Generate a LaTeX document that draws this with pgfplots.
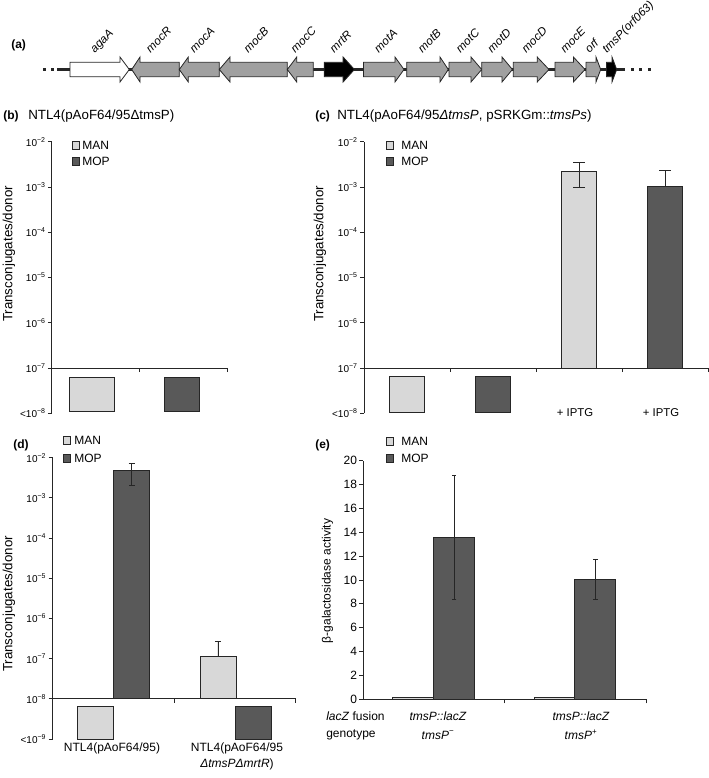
\documentclass[border=0pt]{standalone}
\usepackage{pgfplots}
\pgfplotsset{compat=1.18}
\usepackage{fontspec}
\setmainfont{Liberation Sans}
\definecolor{manc}{HTML}{D8D8D8}
\definecolor{mopc}{HTML}{595959}
\definecolor{genec}{HTML}{A0A0A0}
\definecolor{linec}{HTML}{262626}
\newcommand{\fs}[1]{\fontsize{#1}{#1}\selectfont}
\newcommand{\e}[1]{10\textsuperscript{−#1}}
\tikzset{boxst/.style={draw=linec, line width=0.6pt}}
\pgfplotsset{
  panel/.style={
    scale only axis, clip=false,
    axis y line*=left, axis x line*=middle,
    axis line style={line width=0.75pt, linec},
    every tick/.style={line width=0.6pt, linec},
    tick align=outside, major tick length=3pt,
    xmin=0, xticklabels={},
    yticklabel style={font=\fs{7.5}, inner sep=1.5pt},
  },
  barst/.style={ybar, bar shift=0pt, draw=linec, line width=0.6pt},
}
\newcommand{\gR}[4]{\draw[linec, line width=0.6pt, fill=#4] (#1,-62.3) -- (#3,-62.3) -- (#3,-57) -- (#2,-69.5) -- (#3,-82) -- (#3,-76.7) -- (#1,-76.7) -- cycle;}
\newcommand{\gL}[4]{\draw[linec, line width=0.6pt, fill=#4] (#2,-62.3) -- (#3,-62.3) -- (#3,-57) -- (#1,-69.5) -- (#3,-82) -- (#3,-76.7) -- (#2,-76.7) -- cycle;}
\newcommand{\gl}[2]{\node[rotate=45, anchor=base west, font=\itshape\fs{8.7}, inner sep=0pt] at (#1-5,-53.5) {#2};}
\begin{document}
\begin{tikzpicture}[x=0.75pt, y=0.75pt]
\path[use as bounding box] (0,0) rectangle (709,-778);
% ---------------- (a) gene map
\node[anchor=west, font=\bfseries\fs{9}, inner sep=0pt] at (11,-45) {(a)};
\fill[linec] (43,-68) rectangle (46,-71);
\fill[linec] (50.5,-68) rectangle (53.5,-71);
\draw[linec, line width=2pt] (57,-69.5) -- (625,-69.5);
\fill[linec] (630.5,-68) rectangle (633.5,-71);
\fill[linec] (639,-68) rectangle (642,-71);
\fill[linec] (647.5,-68) rectangle (650.5,-71);
\gR{70}{129.3}{120}{white}
\gL{131.7}{179.3}{140}{genec}
\gL{179.3}{219.3}{188.3}{genec}
\gL{219.3}{287.3}{230}{genec}
\gL{287.3}{313.3}{296.7}{genec}
\gR{324.2}{354.4}{343.1}{black}
\gR{363.4}{404}{395}{genec}
\gR{406.7}{448.3}{440}{genec}
\gR{449}{481.7}{471}{genec}
\gR{481.7}{512.4}{502}{genec}
\gR{513.3}{549}{537.2}{genec}
\gR{555}{585}{573.4}{genec}
\gR{586}{600.7}{596}{genec}
\gR{606.5}{616.7}{612}{black}
\gl{99.6}{agaA}
\gl{155.5}{mocR}
\gl{199.3}{mocA}
\gl{253.3}{mocB}
\gl{300.3}{mocC}
\gl{339.3}{mrtR}
\gl{383.7}{motA}
\gl{427.5}{motB}
\gl{465.4}{motC}
\gl{497}{motD}
\gl{531.2}{mocD}
\gl{570}{mocE}
\gl{594.5}{orf}
\gl{611.6}{tmsP(orf063)}
% ---------------- (b)
\coordinate (B) at (52,-413.3);
\begin{axis}[panel, at={(B)}, anchor=south west, width=131.5pt, height=203.7pt,
  xmax=2, ymin=-1, ymax=5, xtick={1,2},
  ytick={-1,0,1,2,3,4,5}, yticklabels={<\e{8},\e{7},\e{6},\e{5},\e{4},\e{3},\e{2}}]
\addplot[boxst, fill=manc] coordinates {(0.199,-0.2) (0.711,-0.2) (0.711,-0.965) (0.199,-0.965)} -- cycle;
\addplot[boxst, fill=mopc] coordinates {(1.283,-0.2) (1.681,-0.2) (1.681,-0.965) (1.283,-0.965)} -- cycle;
\end{axis}
\node[anchor=west, font=\bfseries\fs{9}, inner sep=0pt] at (3,-116) {(b)};
\node[anchor=west, font=\fs{10}, inner sep=0pt] at (28,-116) {NTL4(pAoF64/95ΔtmsP)};
\node[rotate=90, font=\fs{10}] at (9,-254) {Transconjugates/donor};
\draw[boxst, fill=manc] (72,-141.8) rectangle (79,-149.4);
\draw[boxst, fill=mopc] (72,-157.7) rectangle (79,-165.3);
\node[anchor=west, font=\fs{9}, inner sep=0pt] at (82,-145.6) {MAN};
\node[anchor=west, font=\fs{9}, inner sep=0pt] at (82,-161.5) {MOP};
% ---------------- (c)
\coordinate (C) at (364,-413.3);
\begin{axis}[panel, at={(C)}, anchor=south west, width=258.2pt, height=203.7pt,
  xmax=4, ymin=-1, ymax=5, xtick={1,2,3,4},
  ytick={-1,0,1,2,3,4,5}, yticklabels={<\e{8},\e{7},\e{6},\e{5},\e{4},\e{3},\e{2}}]
\addplot[boxst, fill=manc] coordinates {(0.295,-0.18) (0.705,-0.18) (0.705,-0.97) (0.295,-0.97)} -- cycle;
\addplot[boxst, fill=mopc] coordinates {(1.295,-0.18) (1.705,-0.18) (1.705,-0.97) (1.295,-0.97)} -- cycle;
\addplot[barst, bar width=0.41, fill=manc,
  error bars/.cd, y dir=both, y explicit,
  error bar style={line width=0.6pt, linec},
  error mark options={line width=0.6pt, linec, mark size=4.5pt, rotate=90}]
  coordinates {(2.5,4.35) += (0,0.194) -= (0,0.36)};
\addplot[barst, bar width=0.41, fill=mopc,
  error bars/.cd, y dir=plus, y explicit,
  error bar style={line width=0.6pt, linec},
  error mark options={line width=0.6pt, linec, mark size=4.5pt, rotate=90}]
  coordinates {(3.5,4.02) += (0,0.34)};
\end{axis}
\node[anchor=west, font=\bfseries\fs{9}, inner sep=0pt] at (315,-116) {(c)};
\node[anchor=west, font=\fs{10}, inner sep=0pt] at (337,-116) {NTL4(pAoF64/95\textit{ΔtmsP}, pSRKGm::\textit{tmsPs})};
\node[rotate=90, font=\fs{10}] at (320,-254) {Transconjugates/donor};
\draw[boxst, fill=manc] (386,-141.8) rectangle (393,-149.4);
\draw[boxst, fill=mopc] (386,-157.7) rectangle (393,-165.3);
\node[anchor=west, font=\fs{9}, inner sep=0pt] at (401,-145.6) {MAN};
\node[anchor=west, font=\fs{9}, inner sep=0pt] at (401,-161.5) {MOP};
\node[font=\fs{8.5}] at (575,-413) {+ IPTG};
\node[font=\fs{8.5}] at (661,-413) {+ IPTG};
% ---------------- (d)
\coordinate (D) at (52.5,-739);
\begin{axis}[panel, at={(D)}, anchor=south west, width=182.5pt, height=211pt,
  xmax=2, ymin=-1, ymax=6, xtick={1,2},
  ytick={-1,0,1,2,3,4,5,6}, yticklabels={<\e{9},\e{8},\e{7},\e{6},\e{5},\e{4},\e{3},\e{2}}]
\addplot[boxst, fill=manc] coordinates {(0.207,-0.185) (0.502,-0.185) (0.502,-1) (0.207,-1)} -- cycle;
\addplot[boxst, fill=mopc] coordinates {(1.505,-0.185) (1.8,-0.185) (1.8,-1) (1.505,-1)} -- cycle;
\addplot[barst, bar width=0.295, fill=mopc,
  error bars/.cd, y dir=both, y explicit,
  error bar style={line width=0.6pt, linec},
  error mark options={line width=0.6pt, linec, mark size=2.3pt, rotate=90}]
  coordinates {(0.65,5.686) += (0,0.174) -= (0,0.366)};
\addplot[barst, bar width=0.295, fill=manc,
  error bars/.cd, y dir=plus, y explicit,
  error bar style={line width=0.6pt, linec},
  error mark options={line width=0.6pt, linec, mark size=2.3pt, rotate=90}]
  coordinates {(1.36,1.05) += (0,0.39)};
\end{axis}
\node[anchor=west, font=\bfseries\fs{9}, inner sep=0pt] at (13,-445) {(d)};
\node[rotate=90, font=\fs{10}] at (9,-604) {Transconjugates/donor};
\draw[boxst, fill=manc] (63.5,-436.5) rectangle (70.5,-444.5);
\draw[boxst, fill=mopc] (63.5,-454) rectangle (70.5,-462);
\node[anchor=west, font=\fs{9}, inner sep=0pt] at (74,-440.5) {MAN};
\node[anchor=west, font=\fs{9}, inner sep=0pt] at (74,-458) {MOP};
\node[font=\fs{9}] at (112,-748) {NTL4(pAoF64/95)};
\node[font=\fs{9}] at (237,-748) {NTL4(pAoF64/95};
\node[font=\fs{9}] at (237,-764) {\textit{ΔtmsPΔmrtR})};
% ---------------- (e)
\coordinate (E) at (363.3,-699.3);
\begin{axis}[panel, at={(E)}, anchor=south west, width=212pt, height=178.95pt,
  xmax=2, ymin=0, ymax=20, xtick={1,2},
  ytick={0,2,...,20}, yticklabel style={font=\fs{9}},
  /pgf/number format/assume math mode=true]
\addplot[barst, bar width=0.29, fill=manc] coordinates {(0.352,0.15) (1.354,0.12)};
\addplot[barst, bar width=0.29, fill=mopc,
  error bars/.cd, y dir=both, y explicit,
  error bar style={line width=0.5pt, linec},
  error mark options={line width=0.5pt, linec, mark size=1.6pt, rotate=90}]
  coordinates {(0.643,13.6) +- (0,5.2) (1.642,10.06) +- (0,1.66)};
\end{axis}
\node[anchor=west, font=\bfseries\fs{9}, inner sep=0pt] at (315,-445) {(e)};
\node[rotate=90, font=\fs{9}] at (327.5,-581) {β-galactosidase activity};
\draw[boxst, fill=manc] (386,-437) rectangle (393,-445);
\draw[boxst, fill=mopc] (386,-454) rectangle (393,-462);
\node[anchor=west, font=\fs{9}, inner sep=0pt] at (401,-441) {MAN};
\node[anchor=west, font=\fs{9}, inner sep=0pt] at (401,-458.5) {MOP};
\node[anchor=west, font=\fs{9}, inner sep=0pt] at (326,-716) {\textit{lacZ} fusion};
\node[anchor=west, font=\fs{9}, inner sep=0pt] at (326,-735) {genotype};
\node[font=\fs{9}] at (438,-716) {\textit{tmsP::lacZ}};
\node[font=\fs{9}] at (438,-735) {\textit{tmsP}\textsuperscript{−}};
\node[font=\fs{9}] at (581,-716) {\textit{tmsP::lacZ}};
\node[font=\fs{9}] at (581,-735) {\textit{tmsP}\textsuperscript{+}};
\end{tikzpicture}
\end{document}
